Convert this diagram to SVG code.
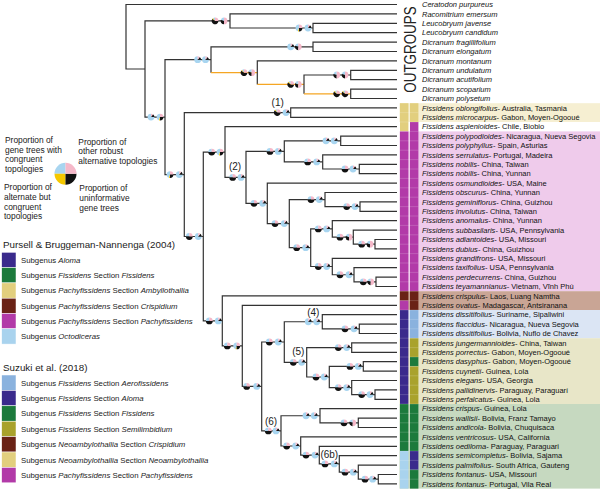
<svg xmlns="http://www.w3.org/2000/svg" xmlns:xlink="http://www.w3.org/1999/xlink" width="600" height="491" viewBox="0 0 600 491">
<style>
.br{fill:none;stroke:#333;stroke-width:1.2}
.or{fill:none;stroke:#f5a623;stroke-width:1.2}
.tip{font-family:"Liberation Sans",Arial,sans-serif;font-size:7.5px;fill:#111}
.it{font-style:italic}
.lg{font-family:"Liberation Sans",Arial,sans-serif;font-size:8.4px;fill:#222}
.ls{font-family:"Liberation Sans",Arial,sans-serif;font-size:7.8px;fill:#222}
.hd{font-family:"Liberation Sans",Arial,sans-serif;font-size:9.8px;fill:#222}
.cl{font-family:"Liberation Sans",Arial,sans-serif;font-size:10px;fill:#222;text-anchor:middle}
.pbl{fill:#a8d5f0}.ppk{fill:#f5b8c9}.pye{fill:#f5c800}.pbk{fill:#111}
.c-ind{fill:#3a2a8c}.c-grn{fill:#1c7a3c}.c-yel{fill:#e2cf7e}.c-brn{fill:#6a2216}.c-mag{fill:#b23aa8}.c-lb{fill:#a9d3ee}.c-aer{fill:#8ab2de}.c-olv{fill:#a9a22c}
.sw{stroke:#fff;stroke-width:0.5}
</style>
<defs>
<g id="hb"><path class="pbl" d="M0,0L0,-3.4A3.4,3.4 0 0 0 -3.4,0Z"/><path class="pbk" d="M0,0L-3.4,0A3.4,3.4 0 0 0 3.4,0Z"/><path class="ppk" d="M0,0L3.4,0A3.4,3.4 0 0 0 0,-3.4Z"/></g>
<g id="pb"><path class="pbl" d="M0,0L0,-3.4A3.4,3.4 0 1 0 3.4,0Z"/><path class="pbk" d="M0,0L3.4,0A3.4,3.4 0 0 0 2,-2.75Z"/><path class="ppk" d="M0,0L2,-2.75A3.4,3.4 0 0 0 0,-3.4Z"/></g>
<g id="pk"><path class="pbl" d="M0,0L0,-3.4A3.4,3.4 0 0 0 -3.23,-1.05Z"/><path class="pbk" d="M0,0L-3.23,-1.05A3.4,3.4 0 0 0 0,3.4Z"/><path class="ppk" d="M0,0L0,3.4A3.4,3.4 0 0 0 0,-3.4Z"/></g>
<g id="bk"><path class="pbl" d="M0,0L0,-3.4A3.4,3.4 0 0 0 -2,-2.75Z"/><path class="pye" d="M0,0L-2,-2.75A3.4,3.4 0 0 0 -2.75,-2Z"/><path class="pbk" d="M0,0L-2.75,-2A3.4,3.4 0 1 0 3.4,0Z"/><path class="ppk" d="M0,0L3.4,0A3.4,3.4 0 0 0 0,-3.4Z"/></g>
<g id="mx"><path class="pbl" d="M0,0L0,-3.4A3.4,3.4 0 0 0 -1.05,3.23Z"/><path class="pye" d="M0,0L-1.05,3.23A3.4,3.4 0 0 0 0,3.4Z"/><path class="pbk" d="M0,0L0,3.4A3.4,3.4 0 0 0 3.4,0Z"/><path class="ppk" d="M0,0L3.4,0A3.4,3.4 0 0 0 0,-3.4Z"/></g>
</defs>
<rect width="600" height="491" fill="#fff"/>

<!-- highlight bands -->
<g id="bands">
<rect x="399.5" y="103.2" width="200.5" height="18.8" fill="#f6efd2"/>
<rect x="399.5" y="131.4" width="200.5" height="159.8" fill="#efcbeb"/>
<rect x="399.5" y="291.2" width="200.5" height="18.8" fill="#c9a595"/>
<rect x="399.5" y="310" width="200.5" height="28.2" fill="#dbe5f4"/>
<rect x="399.5" y="338.2" width="200.5" height="65.8" fill="#e8e6c8"/>
<rect x="399.5" y="404" width="200.5" height="84.6" fill="#c6d9c0"/>
</g>
<g id="cells">
<rect class="c-yel" x="400" y="103.2" width="8.4" height="28.2"/>
<rect class="c-mag" x="400" y="131.4" width="8.4" height="159.8"/>
<rect class="c-brn" x="400" y="291.2" width="8.4" height="9.4"/>
<rect class="c-mag" x="400" y="300.6" width="8.4" height="9.4"/>
<rect class="c-ind" x="400" y="310" width="8.4" height="94"/>
<rect class="c-grn" x="400" y="404" width="8.4" height="47"/>
<rect class="c-lb" x="400" y="451" width="8.4" height="37.6"/>
<rect class="c-yel" x="410" y="103.2" width="8.4" height="18.8"/>
<rect class="c-mag" x="410" y="122" width="8.4" height="169.2"/>
<rect class="c-brn" x="410" y="291.2" width="8.4" height="18.8"/>
<rect class="c-aer" x="410" y="310" width="8.4" height="28.2"/>
<rect class="c-olv" x="410" y="338.2" width="8.4" height="18.8"/>
<rect class="c-grn" x="410" y="357" width="8.4" height="9.4"/>
<rect class="c-olv" x="410" y="366.4" width="8.4" height="37.6"/>
<rect class="c-grn" x="410" y="404" width="8.4" height="47"/>
<rect class="c-ind" x="410" y="451" width="8.4" height="18.8"/>
<rect class="c-grn" x="410" y="469.8" width="8.4" height="18.8"/>
<path stroke="#fff" stroke-opacity="0.35" stroke-width="0.5" fill="none" d="M400,112.6h18.4M400,122h18.4M400,131.4h18.4M400,140.8h18.4M400,150.2h18.4M400,159.6h18.4M400,169h18.4M400,178.4h18.4M400,187.8h18.4M400,197.2h18.4M400,206.6h18.4M400,216h18.4M400,225.4h18.4M400,234.8h18.4M400,244.2h18.4M400,253.6h18.4M400,263h18.4M400,272.4h18.4M400,281.8h18.4M400,291.2h18.4M400,300.6h18.4M400,310h18.4M400,319.4h18.4M400,328.8h18.4M400,338.2h18.4M400,347.6h18.4M400,357h18.4M400,366.4h18.4M400,375.8h18.4M400,385.2h18.4M400,394.6h18.4M400,404h18.4M400,413.4h18.4M400,422.8h18.4M400,432.2h18.4M400,441.6h18.4M400,451h18.4M400,460.4h18.4M400,469.8h18.4M400,479.2h18.4"/>
</g>

<g id="outgroups-label"><text transform="translate(415.5,49.5) rotate(-90) scale(1,1.25)" font-family="Liberation Sans, Arial, sans-serif" font-size="13.4" fill="#222" text-anchor="middle">OUTGROUPS</text></g>

<!-- connectors -->
<g id="edges">
<path class="br" d="M397,4.5H126V69H145"/>
<path class="br" d="M230,20.95H145V117.1H165"/>
<path class="br" d="M397,13.9H230V28H313"/>
<path class="br" d="M397,23.3H313V32.7H397"/>
<path class="br" d="M211,59.7H165V174.55H184.3"/>
<path class="br" d="M313,46.8H211V72.65"/>
<path class="or" d="M211,72.65H257.3"/>
<path class="br" d="M397,42.1H313V51.5H397"/>
<path class="br" d="M397,60.9H257.3V84.4"/>
<path class="or" d="M257.3,84.4H304"/>
<path class="br" d="M350.7,75H304V93.8"/>
<path class="or" d="M304,93.8H350.7"/>
<path class="br" d="M397,70.3H350.7V79.7H397"/>
<path class="br" d="M397,89.1H350.7V98.5H397"/>
<path class="br" d="M290.7,112.6H184.3V236.5H203.3"/>
<path class="br" d="M397,107.9H290.7V117.3H397"/>
<path class="br" d="M225,152.05H203.3V320.9H222.3"/>
<path class="br" d="M397,126.7H225V177.4H246"/>
<path class="br" d="M284.3,151.4H246V203.35H267.3"/>
<path class="br" d="M340.7,140.8H284.3V161.95H322.7"/>
<path class="br" d="M397,136.1H340.7V145.5H397"/>
<path class="br" d="M397,154.9H322.7V169H359.3"/>
<path class="br" d="M397,164.3H359.3V173.7H397"/>
<path class="br" d="M397,183.1H267.3V223.6H289.3"/>
<path class="br" d="M325,199.55H289.3V247.7H310.7"/>
<path class="br" d="M397,192.5H325V206.6H360"/>
<path class="br" d="M397,201.9H360V211.3H397"/>
<path class="br" d="M332.3,228.9H310.7V266.5H332.3"/>
<path class="br" d="M397,220.7H332.3V237.15H353.3"/>
<path class="br" d="M397,230.1H353.3V244.2H375"/>
<path class="br" d="M397,239.5H375V248.9H397"/>
<path class="br" d="M397,258.3H332.3V274.75H354"/>
<path class="br" d="M397,267.7H354V281.8H376"/>
<path class="br" d="M397,277.1H376V286.5H397"/>
<path class="br" d="M397,295.9H222.3V345.9H242.3"/>
<path class="br" d="M397,305.3H242.3V386.45H261.7"/>
<path class="br" d="M284.3,342H261.7V430.9H281"/>
<path class="br" d="M322.3,321.75H284.3V362.3H306.7"/>
<path class="br" d="M397,314.7H322.3V328.8H359.3"/>
<path class="br" d="M397,324.1H359.3V333.5H397"/>
<path class="br" d="M351.7,347.6H306.7V376.98H329.3"/>
<path class="br" d="M397,342.9H351.7V352.3H397"/>
<path class="br" d="M363.3,366.4H329.3V387.55H351.7"/>
<path class="br" d="M397,361.7H363.3V371.1H397"/>
<path class="br" d="M397,380.5H351.7V394.6H375"/>
<path class="br" d="M397,389.9H375V399.3H397"/>
<path class="br" d="M320,415.75H281V446H300.7"/>
<path class="br" d="M397,408.7H320V422.8H358.3"/>
<path class="br" d="M397,418.1H358.3V427.5H397"/>
<path class="br" d="M397,436.9H300.7V455.1H319.3"/>
<path class="br" d="M397,446.3H319.3V463.9H339.3"/>
<path class="br" d="M397,455.7H339.3V472.15H358.3"/>
<path class="br" d="M397,465.1H358.3V479.2H378.3"/>
<path class="br" d="M397,474.5H378.3V483.9H397"/>
</g>

<!-- internal node pies -->
<g id="n-B"><use href="#bk" x="215" y="20.95"/><use href="#pk" x="224" y="20.95"/></g>
<g id="n-LB"><use href="#mx" x="299" y="28"/><use href="#pb" x="308" y="28"/></g>
<g id="n-E"><use href="#pb" x="290.7" y="46.8"/><use href="#pk" x="298.3" y="46.8"/></g>
<g id="n-D"><use href="#pb" x="197.7" y="59.7"/><use href="#pb" x="205.5" y="59.7"/></g>
<g id="n-F"><use href="#bk" x="244" y="72.65"/><use href="#pk" x="251.7" y="72.65"/></g>
<g id="n-G"><use href="#bk" x="290.7" y="84.4"/><use href="#pk" x="298.3" y="84.4"/></g>
<g id="n-H"><use href="#pk" x="336.7" y="75"/><use href="#pk" x="345" y="75"/></g>
<g id="n-I"><use href="#bk" x="336.7" y="93.8"/><use href="#bk" x="345" y="93.8"/></g>
<g id="n-C"><use href="#pb" x="151" y="117.1"/><use href="#mx" x="160" y="117.1"/></g>
<g id="n-1"><use href="#bk" x="277.3" y="112.6"/><use href="#pb" x="286" y="112.6"/></g>
<g id="n-J"><use href="#mx" x="170" y="174.55"/><use href="#pb" x="179.3" y="174.55"/></g>
<g id="n-L"><use href="#hb" x="189.3" y="236.5"/><use href="#pb" x="198.3" y="236.5"/></g>
<g id="n-M"><use href="#hb" x="211.7" y="152.05"/><use href="#mx" x="220" y="152.05"/></g>
<g id="n-2"><use href="#hb" x="232.7" y="177.4"/><use href="#pb" x="241" y="177.4"/></g>
<g id="n-P"><use href="#hb" x="270" y="151.4"/><use href="#pb" x="278.3" y="151.4"/></g>
<g id="n-PP"><use href="#pb" x="326" y="140.8"/><use href="#pb" x="334.3" y="140.8"/></g>
<g id="n-R"><use href="#hb" x="307.7" y="161.95"/><use href="#pb" x="316.7" y="161.95"/></g>
<g id="n-NB"><use href="#hb" x="345" y="169"/><use href="#pb" x="353" y="169"/></g>
<g id="n-Q"><use href="#hb" x="254" y="203.35"/><use href="#pb" x="262.7" y="203.35"/></g>
<g id="n-S"><use href="#hb" x="275" y="223.6"/><use href="#pb" x="284.3" y="223.6"/></g>
<g id="n-T"><use href="#hb" x="311" y="199.55"/><use href="#pb" x="319.3" y="199.55"/></g>
<g id="n-U"><use href="#hb" x="346.7" y="206.6"/><use href="#pb" x="355" y="206.6"/></g>
<g id="n-V"><use href="#hb" x="296.7" y="247.7"/><use href="#pb" x="305.7" y="247.7"/></g>
<g id="n-W"><use href="#hb" x="318.3" y="228.9"/><use href="#pb" x="326.7" y="228.9"/></g>
<g id="n-X"><use href="#hb" x="340" y="237.15"/><use href="#pk" x="349" y="237.15"/></g>
<g id="n-Y"><use href="#hb" x="361.7" y="244.2"/><use href="#pk" x="370" y="244.2"/></g>
<g id="n-Z"><use href="#hb" x="318.3" y="266.5"/><use href="#pb" x="326.7" y="266.5"/></g>
<g id="n-AA"><use href="#hb" x="340" y="274.75"/><use href="#pb" x="349" y="274.75"/></g>
<g id="n-AB"><use href="#hb" x="363.3" y="281.8"/><use href="#pk" x="370.7" y="281.8"/></g>
<g id="n-N"><use href="#hb" x="209.3" y="320.9"/><use href="#pb" x="218.3" y="320.9"/></g>
<g id="n-AC"><use href="#hb" x="227.3" y="345.9"/><use href="#mx" x="236.7" y="345.9"/></g>
<g id="n-AD"><use href="#hb" x="246.7" y="386.45"/><use href="#pb" x="256.7" y="386.45"/></g>
<g id="n-AE"><use href="#hb" x="269.3" y="342"/><use href="#pb" x="278.3" y="342"/></g>
<g id="n-4"><use href="#pb" x="308.3" y="321.75"/><use href="#pb" x="316.7" y="321.75"/></g>
<g id="n-FL"><use href="#hb" x="345" y="328.8"/><use href="#pb" x="354" y="328.8"/></g>
<g id="n-5"><use href="#hb" x="293.3" y="362.3"/><use href="#pb" x="301.7" y="362.3"/></g>
<g id="n-JP"><use href="#hb" x="338.3" y="347.6"/><use href="#pb" x="346.7" y="347.6"/></g>
<g id="n-AG"><use href="#hb" x="316" y="376.98"/><use href="#pb" x="324.3" y="376.98"/></g>
<g id="n-DC"><use href="#hb" x="350" y="366.4"/><use href="#pb" x="358.3" y="366.4"/></g>
<g id="n-EL"><use href="#hb" x="338.3" y="387.55"/><use href="#pb" x="346.7" y="387.55"/></g>
<g id="n-PPf"><use href="#hb" x="361.7" y="394.6"/><use href="#pb" x="370" y="394.6"/></g>
<g id="n-6"><use href="#hb" x="268.3" y="430.9"/><use href="#pb" x="276" y="430.9"/></g>
<g id="n-CR"><use href="#pb" x="306" y="415.75"/><use href="#pb" x="314.3" y="415.75"/></g>
<g id="n-WA"><use href="#hb" x="344" y="422.8"/><use href="#pk" x="352.7" y="422.8"/></g>
<g id="n-AI"><use href="#hb" x="286.7" y="446"/><use href="#pb" x="295.7" y="446"/></g>
<g id="n-AJ"><use href="#hb" x="306" y="455.1"/><use href="#pb" x="315" y="455.1"/></g>
<g id="n-6b"><use href="#hb" x="325" y="463.9"/><use href="#pb" x="334.3" y="463.9"/></g>
<g id="n-AL"><use href="#hb" x="345" y="472.15"/><use href="#pb" x="353.3" y="472.15"/></g>
<g id="n-FO"><use href="#hb" x="365" y="479.2"/><use href="#pb" x="372.7" y="479.2"/></g>

<!-- clade labels -->
<g id="clade-labels">
<text class="cl" x="277.7" y="106.3">(1)</text>
<text class="cl" x="235" y="170.3">(2)</text>
<text class="cl" x="313.3" y="316.3">(4)</text>
<text class="cl" x="298.3" y="355.3">(5)</text>
<text class="cl" x="271" y="425.3">(6)</text>
<text class="cl" x="329.3" y="457.6">(6b)</text>
</g>

<!-- tips -->
<g class="tip">
<g id="t0"><text x="422" y="7.1" class="it">Ceratodon purpureus</text></g>
<g id="t1"><text x="422" y="16.5" class="it">Racomitrium emersum</text></g>
<g id="t2"><text x="422" y="25.9" class="it">Leucobryum javense</text></g>
<g id="t3"><text x="422" y="35.3" class="it">Leucobryum candidum</text></g>
<g id="t4"><text x="422" y="44.7" class="it">Dicranum fragillifolium</text></g>
<g id="t5"><text x="422" y="54.1" class="it">Dicranum elongatum</text></g>
<g id="t6"><text x="422" y="63.5" class="it">Dicranum montanum</text></g>
<g id="t7"><text x="422" y="72.9" class="it">Dicranum undulatum</text></g>
<g id="t8"><text x="422" y="82.3" class="it">Dicranum acutifolium</text></g>
<g id="t9"><text x="422" y="91.7" class="it">Dicranum scoparium</text></g>
<g id="t10"><text x="422" y="101.1" class="it">Dicranum polysetum</text></g>
<g id="t11"><text x="422" y="110.5"><tspan class="it">Fissidens oblongifolius</tspan>- Australia, Tasmania</text></g>
<g id="t12"><text x="422" y="119.9"><tspan class="it">Fissidens microcarpus</tspan>- Gabon, Moyen-Ogooué</text></g>
<g id="t13"><text x="422" y="129.3"><tspan class="it">Fissidens asplenioides</tspan>- Chile, Biobio</text></g>
<g id="t14"><text x="422" y="138.7"><tspan class="it">Fissidens polypodioides</tspan>- Nicaragua, Nueva Segovia</text></g>
<g id="t15"><text x="422" y="148.1"><tspan class="it">Fissidens polyphyllus</tspan>- Spain, Asturias</text></g>
<g id="t16"><text x="422" y="157.5"><tspan class="it">Fissidens serrulatus</tspan>- Portugal, Madeira</text></g>
<g id="t17"><text x="422" y="166.9"><tspan class="it">Fissidens nobilis</tspan>- China, Taiwan</text></g>
<g id="t18"><text x="422" y="176.3"><tspan class="it">Fissidens nobilis</tspan>- China, Yunnan</text></g>
<g id="t19"><text x="422" y="185.7"><tspan class="it">Fissidens osmundioides</tspan>- USA, Maine</text></g>
<g id="t20"><text x="422" y="195.1"><tspan class="it">Fissidens obscurus</tspan>- China, Yunnan</text></g>
<g id="t21"><text x="422" y="204.5"><tspan class="it">Fissidens geminiflorus</tspan>- China, Guizhou</text></g>
<g id="t22"><text x="422" y="213.9"><tspan class="it">Fissidens involutus</tspan>- China, Taiwan</text></g>
<g id="t23"><text x="422" y="223.3"><tspan class="it">Fissidens anomalus</tspan>- China, Yunnan</text></g>
<g id="t24"><text x="422" y="232.7"><tspan class="it">Fissidens subbasilaris</tspan>- USA, Pennsylvania</text></g>
<g id="t25"><text x="422" y="242.1"><tspan class="it">Fissidens adiantoides</tspan>- USA, Missouri</text></g>
<g id="t26"><text x="422" y="251.5"><tspan class="it">Fissidens dubius</tspan>- China, Guizhou</text></g>
<g id="t27"><text x="422" y="260.9"><tspan class="it">Fissidens grandifrons</tspan>- USA, Missouri</text></g>
<g id="t28"><text x="422" y="270.3"><tspan class="it">Fissidens taxifolius</tspan>- USA, Pennsylvania</text></g>
<g id="t29"><text x="422" y="279.7"><tspan class="it">Fissidens perdecurrens</tspan>- China, Guizhou</text></g>
<g id="t30"><text x="422" y="289.1"><tspan class="it">Fissidens teyamannianus</tspan>- Vietnam, Vĩnh Phú</text></g>
<g id="t31"><text x="422" y="298.5"><tspan class="it">Fissidens crispulus</tspan>- Laos, Luang Namtha</text></g>
<g id="t32"><text x="422" y="307.9"><tspan class="it">Fissidens ovatus</tspan>- Madagascar, Antsiranana</text></g>
<g id="t33"><text x="422" y="317.3"><tspan class="it">Fissidens dissitifolius</tspan>- Suriname, Sipaliwini</text></g>
<g id="t34"><text x="422" y="326.7"><tspan class="it">Fissidens flaccidus</tspan>- Nicaragua, Nueva Segovia</text></g>
<g id="t35"><text x="422" y="336.1"><tspan class="it">Fissidens dissitifolius</tspan>- Bolivia, Nuflo de Chavez</text></g>
<g id="t36"><text x="422" y="345.5"><tspan class="it">Fissidens jungermannioides</tspan>- China, Taiwan</text></g>
<g id="t37"><text x="422" y="354.9"><tspan class="it">Fissidens porrectus</tspan>- Gabon, Moyen-Ogooué</text></g>
<g id="t38"><text x="422" y="364.3"><tspan class="it">Fissidens dasyphus</tspan>- Gabon, Moyen-Ogooué</text></g>
<g id="t39"><text x="422" y="373.7"><tspan class="it">Fissidens cuynetii</tspan>- Guinea, Lola</text></g>
<g id="t40"><text x="422" y="383.1"><tspan class="it">Fissidens elegans</tspan>- USA, Georgia</text></g>
<g id="t41"><text x="422" y="392.5"><tspan class="it">Fissidens pallidinervis</tspan>- Paraguay, Paraguarí</text></g>
<g id="t42"><text x="422" y="401.9"><tspan class="it">Fissidens perfalcatus</tspan>- Guinea, Lola</text></g>
<g id="t43"><text x="422" y="411.3"><tspan class="it">Fissidens crispus</tspan>- Guinea, Lola</text></g>
<g id="t44"><text x="422" y="420.7"><tspan class="it">Fissidens wallisii</tspan>- Bolivia, Franz Tamayo</text></g>
<g id="t45"><text x="422" y="430.1"><tspan class="it">Fissidens andicola</tspan>- Bolivia, Chuquisaca</text></g>
<g id="t46"><text x="422" y="439.5"><tspan class="it">Fissidens ventricosus</tspan>- USA, California</text></g>
<g id="t47"><text x="422" y="448.9"><tspan class="it">Fissidens oediloma</tspan>- Paraguay, Paraguari</text></g>
<g id="t48"><text x="422" y="458.3"><tspan class="it">Fissidens semicompletus</tspan>- Bolivia, Sajama</text></g>
<g id="t49"><text x="422" y="467.7"><tspan class="it">Fissidens palmifolius</tspan>- South Africa, Gauteng</text></g>
<g id="t50"><text x="422" y="477.1"><tspan class="it">Fissidens fontanus</tspan>- USA, Missouri</text></g>
<g id="t51"><text x="422" y="486.5"><tspan class="it">Fissidens fontanus</tspan>- Portugal, Vila Real</text></g>
</g>

<!-- pie legend -->
<g id="pie-legend">
<path class="pbl" d="M65.5,173.8L65.5,162.8A11,11 0 0 0 54.5,173.8Z"/>
<path class="pye" d="M65.5,173.8L54.5,173.8A11,11 0 0 0 65.5,184.8Z"/>
<path class="pbk" d="M65.5,173.8L65.5,184.8A11,11 0 0 0 76.5,173.8Z"/>
<path class="ppk" d="M65.5,173.8L76.5,173.8A11,11 0 0 0 65.5,162.8Z"/>
<text class="lg"><tspan x="5" y="143">Proportion of</tspan><tspan x="5" y="152.7">gene trees with</tspan><tspan x="5" y="162.3">congruent</tspan><tspan x="5" y="172">topologies</tspan></text>
<text class="lg"><tspan x="78.3" y="144.7">Proportion of</tspan><tspan x="78.3" y="154.3">other robust</tspan><tspan x="78.3" y="164">alternative topologies</tspan></text>
<text class="lg"><tspan x="4" y="190.3">Proportion of</tspan><tspan x="4" y="200">alternate but</tspan><tspan x="4" y="209.7">congruent</tspan><tspan x="4" y="219.3">topologies</tspan></text>
<text class="lg"><tspan x="79.3" y="191.3">Proportion of</tspan><tspan x="79.3" y="201">uninformative</tspan><tspan x="79.3" y="210.7">gene trees</tspan></text>
</g>

<!-- Pursell legend -->
<g id="legend-pursell">
<text class="hd" x="3" y="247.5">Pursell &amp; Bruggeman-Nannenga (2004)</text>
<rect class="c-ind sw" x="1.7" y="252.3" width="14.3" height="15.3"/>
<rect class="c-grn sw" x="1.7" y="267.6" width="14.3" height="15.3"/>
<rect class="c-yel sw" x="1.7" y="282.9" width="14.3" height="15.3"/>
<rect class="c-brn sw" x="1.7" y="298.2" width="14.3" height="15.3"/>
<rect class="c-mag sw" x="1.7" y="313.5" width="14.3" height="15.3"/>
<rect class="c-lb sw" x="1.7" y="328.8" width="14.3" height="15.3"/>
<text class="ls" x="21" y="262.7">Subgenus <tspan class="it">Aloma</tspan></text>
<text class="ls" x="21" y="278">Subgenus <tspan class="it">Fissidens</tspan> Section <tspan class="it">Fissidens</tspan></text>
<text class="ls" x="21" y="293.3">Subgenus <tspan class="it">Pachyfissidens</tspan> Section <tspan class="it">Ambyllothallia</tspan></text>
<text class="ls" x="21" y="308.6">Subgenus <tspan class="it">Pachyfissidens</tspan> Section <tspan class="it">Crispidium</tspan></text>
<text class="ls" x="21" y="323.9">Subgenus <tspan class="it">Pachyfissidens</tspan> Section <tspan class="it">Pachyfissidens</tspan></text>
<text class="ls" x="21" y="339.2">Subgenus <tspan class="it">Octodiceras</tspan></text>
</g>

<!-- Suzuki legend -->
<g id="legend-suzuki">
<text class="hd" x="3" y="370.8">Suzuki et al. (2018)</text>
<rect class="c-aer sw" x="1.7" y="375" width="14.3" height="15.4"/>
<rect class="c-ind sw" x="1.7" y="390.4" width="14.3" height="15.4"/>
<rect class="c-grn sw" x="1.7" y="405.8" width="14.3" height="15.4"/>
<rect class="c-olv sw" x="1.7" y="421.2" width="14.3" height="15.4"/>
<rect class="c-brn sw" x="1.7" y="436.6" width="14.3" height="15.4"/>
<rect class="c-yel sw" x="1.7" y="452" width="14.3" height="15.4"/>
<rect class="c-mag sw" x="1.7" y="467.4" width="14.3" height="15.4"/>
<text class="ls" x="21" y="385.5">Subgenus <tspan class="it">Fissidens</tspan> Section <tspan class="it">Aerofissidens</tspan></text>
<text class="ls" x="21" y="400.9">Subgenus <tspan class="it">Fissidens</tspan> Section <tspan class="it">Aloma</tspan></text>
<text class="ls" x="21" y="416.3">Subgenus <tspan class="it">Fissidens</tspan> Section <tspan class="it">Fissidens</tspan></text>
<text class="ls" x="21" y="431.7">Subgenus <tspan class="it">Fissidens</tspan> Section <tspan class="it">Semilimbidium</tspan></text>
<text class="ls" x="21" y="447.1">Subgenus <tspan class="it">Neoambylothallia</tspan> Section <tspan class="it">Crispidium</tspan></text>
<text class="ls" x="21" y="462.5">Subgenus <tspan class="it">Neoambylothallia</tspan> Section <tspan class="it">Neoambylothallia</tspan></text>
<text class="ls" x="21" y="477.9">Subgenus <tspan class="it">Pachyfissidens</tspan> Section <tspan class="it">Pachyfissidens</tspan></text>
</g>
</svg>
